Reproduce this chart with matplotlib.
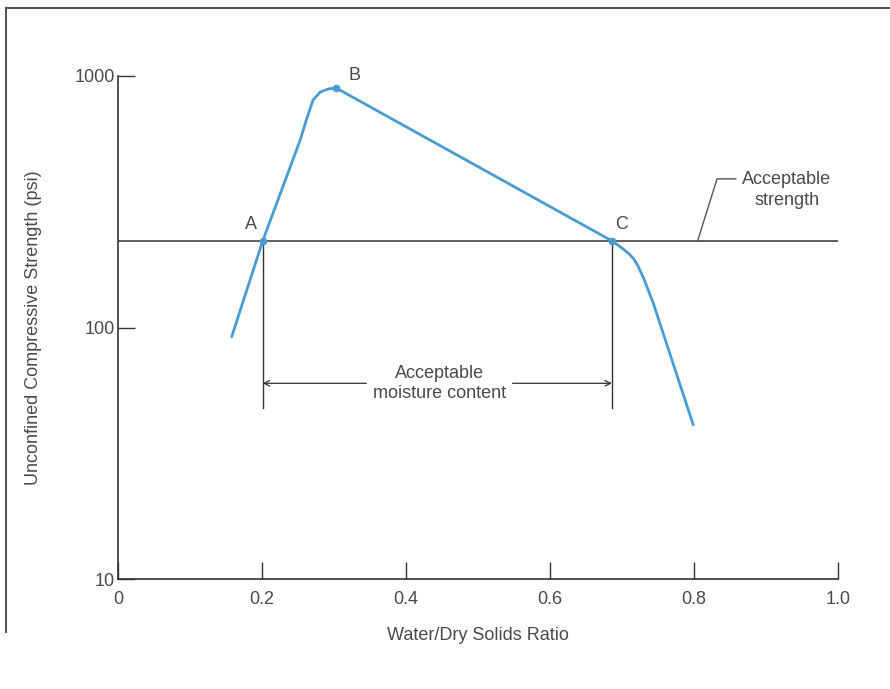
import matplotlib
matplotlib.use("Agg")
import matplotlib.pyplot as plt
from matplotlib.lines import Line2D

plt.rcParams['font.family'] = ['Liberation Sans', 'DejaVu Sans']

# Data
ratio = [0.158, 0.201, 0.253, 0.2625, 0.271, 0.281, 0.292, 0.303,
         0.686, 0.700, 0.710, 0.716, 0.722, 0.730, 0.743, 0.799]
strength = [92, 221, 556, 681, 803, 864, 888, 896,
            221, 207, 196, 188, 176, 157, 126, 41]
accept_strength = 221
point_A = (0.201, 221)
point_B = (0.303, 896)
point_C = (0.686, 221)
xticks = [0, 0.2, 0.4, 0.6, 0.8, 1.0]
xticklabels = ['0', '0.2', '0.4', '0.6', '0.8', '1.0']
yticks = [10, 100, 1000]
yticklabels = ['10', '100', '1000']

blue = '#4a9bd0'
dark = '#333333'
txt = '#4a4a4a'
fs = 13

fig = plt.figure(figsize=(8.9, 6.89), dpi=100)
ax = fig.add_axes([118/890, 1-579/689, 720/890, (579-76)/689])
ax.set_yscale('log')
ax.set_xlim(0, 1.0)
ax.set_ylim(10, 1000)

ax.plot(ratio, strength, color=blue, lw=2.0, solid_capstyle='round',
        solid_joinstyle='round', zorder=3)
for p in (point_A, point_B, point_C):
    ax.plot(*p, 'o', color=blue, ms=4.5, zorder=4)

# acceptable strength line
ax.plot([0, 1.0], [accept_strength, accept_strength], color=dark, lw=1.1, zorder=2)

# vertical drop lines
ax.plot([point_A[0], point_A[0]], [accept_strength, 48], color=dark, lw=1.0)
ax.plot([point_C[0], point_C[0]], [accept_strength, 48], color=dark, lw=1.0)

# arrows
arrow_y = 60
ax.annotate('', xy=(point_A[0], arrow_y), xytext=(0.345, arrow_y),
            arrowprops=dict(arrowstyle='->', color=dark, lw=0.9, shrinkA=0, shrinkB=0))
ax.annotate('', xy=(point_C[0], arrow_y), xytext=(0.548, arrow_y),
            arrowprops=dict(arrowstyle='->', color=dark, lw=0.9, shrinkA=0, shrinkB=0))
ax.text(0.447, arrow_y, 'Acceptable\nmoisture content', ha='center', va='center',
        fontsize=fs, color=txt, linespacing=1.25)

# labels
ax.text(0.184, 257, 'A', fontsize=fs, color=txt, ha='center', va='center')
ax.text(0.328, 1000, 'B', fontsize=fs, color=txt, ha='center', va='center', clip_on=False)
ax.text(0.700, 257, 'C', fontsize=fs, color=txt, ha='center', va='center')

# acceptable strength leader
ax.plot([0.805, 0.832, 0.858], [221, 390, 390], color='#555555', lw=1.0)
ax.text(0.929, 352, 'Acceptable\nstrength', fontsize=fs, color=txt,
        ha='center', va='center', linespacing=1.25)

# axes styling
for s in ('top', 'right'):
    ax.spines[s].set_visible(False)
for s in ('left', 'bottom'):
    ax.spines[s].set_color(dark)
    ax.spines[s].set_linewidth(1.2)
ax.set_xticks(xticks)
ax.set_xticklabels(xticklabels)
ax.set_yticks(yticks)
ax.set_yticklabels(yticklabels)
ax.minorticks_off()
ax.tick_params(direction='in', length=12, width=1.0, color=dark,
               labelsize=fs, labelcolor=txt)
ax.tick_params(axis='x', pad=9)
ax.tick_params(axis='y', pad=2)
ax.set_xlabel('Water/Dry Solids Ratio', fontsize=fs, color=txt, labelpad=13)
ax.set_ylabel('Unconfined Compressive Strength (psi)', fontsize=fs, color=txt, labelpad=24)

# page frame
fig.add_artist(Line2D([6/890, 1.0], [1-8/689, 1-8/689], transform=fig.transFigure,
                      color='#555555', lw=1.5))
fig.add_artist(Line2D([6/890, 6/890], [1-8/689, 1-632/689], transform=fig.transFigure,
                      color='#555555', lw=1.5))

fig.savefig('out.png', dpi=100)
